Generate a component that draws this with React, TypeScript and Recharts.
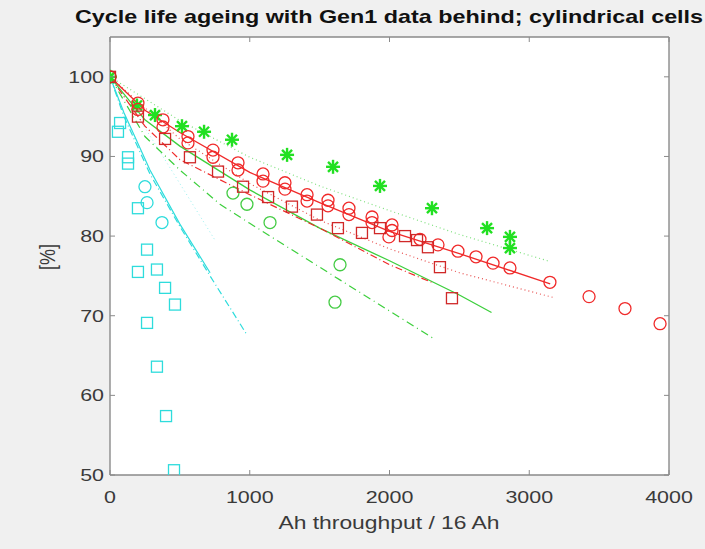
import React from 'react';
import { ComposedChart, Line, Scatter, XAxis, YAxis, CartesianGrid } from 'recharts';

const xTicks = [0, 1000, 2000, 3000, 4000];
const yTicks = [50, 60, 70, 80, 90, 100];

const redCircles = [[0,100],[200,96.7],[200,95.9],[379,94.6],[379,93.7],[558,92.5],[558,91.7],[737,90.8],[737,89.9],[916,89.2],[916,88.3],[1095,87.8],[1095,86.9],[1252,86.7],[1252,85.9],[1410,85.2],[1410,84.4],[1560,84.5],[1560,83.8],[1710,83.5],[1710,82.7],[1875,82.4],[1875,81.7],[2018,81.4],[2018,80.7],[1996,79.9],[2218,79.6],[2347,78.9],[2490,78.1],[2619,77.4],[2741,76.6],[2862,76.0],[3148,74.2],[3428,72.4],[3685,70.9],[3936,69.0]];
const redSquares = [[0,100],[200,95.0],[394,92.2],[572,89.9],[773,88.1],[952,86.2],[1131,84.9],[1302,83.7],[1481,82.7],[1631,81.0],[1803,80.4],[1932,81.0],[2111,80.0],[2197,79.5],[2275,78.6],[2361,76.1],[2447,72.2]];
const greenStars = [[0,100],[193,96.4],[322,95.2],[515,93.8],[673,93.1],[873,92.1],[1267,90.2],[1596,88.7],[1932,86.3],[2304,83.5],[2698,81.0],[2862,79.9],[2862,78.5]];
const greenCircles = [[0,100],[880,85.4],[980,84.0],[1145,81.7],[1646,76.4],[1610,71.7]];
const cyanSquares = [[72,94.2],[57,93.1],[129,89.9],[129,89.1],[200,83.5],[265,78.3],[200,75.5],[336,75.8],[394,73.5],[465,71.4],[265,69.1],[336,63.6],[401,57.4],[458,50.6]];
const cyanCircles = [[250,86.2],[265,84.2],[372,81.7]];

const redSolid = [[0,100],[250,95.8],[500,93],[1000,88],[1500,84.2],[2000,80.6],[2500,77.8],[3150,74.0]];
const redDotLow = [[0,100],[500,92.2],[1000,86.6],[1500,82.0],[2000,78.4],[2500,75.4],[3170,72.3]];
const greenDotUp = [[0,100],[500,94.5],[1000,89.9],[1500,86.3],[2000,83.2],[2500,80.2],[3150,76.8]];
const redDashDot = [[0,100],[250,93.8],[500,89.6],[1000,85.2],[1500,81.0],[2000,76.4],[2300,74.2]];
const greenSolid = [[0,100],[250,94.6],[500,91.3],[1000,85.8],[1500,81.0],[2000,76.9],[2500,72.6],[2730,70.4]];
const greenDashDot = [[0,100],[250,92.5],[500,88.3],[787,84.0],[1000,81.6],[1500,76.1],[2000,70.6],[2310,67.2]];
const cyanSolid = [[0,100],[100,95.5],[286,88.3],[500,81.5],[716,75.4]];
const cyanDashDot = [[0,100],[100,95],[286,87.8],[500,81.2],[716,75],[980,67.6]];
const cyanDot = [[0,100],[200,95],[450,88],[751,79.5]];

const pts = (a: number[][]) => a.map(([x, y]) => ({ x, y }));

const RED = '#f02a2a';
const RED_SQ = '#d02828';
const GREEN = '#22e022';
const GREEN_LINE = '#3ccf3c';
const CYAN = '#2edcdc';
const AXIS = '#8a8a8a';
const TXT = '#3a3a3a';
const FONT = "'Liberation Sans', Arial, Helvetica, sans-serif";
const SX = 1.3;

const circleShape = (color: string) => (p: any) => (
  <circle cx={p.cx} cy={p.cy} r={6} fill="none" stroke={color} strokeWidth={1.3} />
);
const squareShape = (color: string) => (p: any) => (
  <rect x={p.cx - 5.5} y={p.cy - 5.5} width={11} height={11} fill="none" stroke={color} strokeWidth={1.3} />
);
const starShape = (color: string) => (p: any) => {
  const r = 7, d = 5;
  return (
    <g stroke={color} strokeWidth={2.4}>
      <line x1={p.cx - r} y1={p.cy} x2={p.cx + r} y2={p.cy} />
      <line x1={p.cx} y1={p.cy - r} x2={p.cx} y2={p.cy + r} />
      <line x1={p.cx - d} y1={p.cy - d} x2={p.cx + d} y2={p.cy + d} />
      <line x1={p.cx - d} y1={p.cy + d} x2={p.cx + d} y2={p.cy - d} />
    </g>
  );
};

const BottomTick = (p: any) => (
  <g>
    <line x1={p.x} x2={p.x} y1={p.y} y2={p.y - 5} stroke={AXIS} />
    <text transform={`translate(${p.x},${p.y + 28}) scale(${SX},1)`} textAnchor="middle" fontSize={16.5} fill={TXT} fontFamily={FONT}>
      {p.payload.value}
    </text>
  </g>
);
const LeftTick = (p: any) => (
  <g>
    <line x1={p.x} x2={p.x + 5} y1={p.y} y2={p.y} stroke={AXIS} />
    <text transform={`translate(${p.x - 6},${p.y + 6}) scale(${SX},1)`} textAnchor="end" fontSize={16.5} fill={TXT} fontFamily={FONT}>
      {p.payload.value}
    </text>
  </g>
);
const TopTick = (p: any) => <line x1={p.x} x2={p.x} y1={p.y} y2={p.y + 5} stroke={AXIS} />;
const RightTick = (p: any) => <line x1={p.x} x2={p.x - 5} y1={p.y} y2={p.y} stroke={AXIS} />;

export default function App() {
  const lineCommon = { dataKey: 'y', dot: false, isAnimationActive: false, activeDot: false } as any;
  return (
    <div style={{ position: 'absolute', left: 0, top: 0, width: 705, height: 549, background: '#f0f0f0', overflow: 'hidden' }}>
      <div style={{ position: 'absolute', left: -11, top: 7, width: 800, textAlign: 'center', fontFamily: FONT, fontWeight: 'bold', fontSize: 18.4, lineHeight: '20px', color: '#111', transform: `scaleX(1.27)`, transformOrigin: 'center', whiteSpace: 'nowrap' }}>
        Cycle life ageing with Gen1 data behind; cylindrical cells
      </div>
      <div style={{ position: 'absolute', left: 189, top: 513, width: 400, textAlign: 'center', fontFamily: FONT, fontSize: 18, lineHeight: '20px', color: TXT, transform: `scaleX(1.27)`, transformOrigin: 'center', whiteSpace: 'nowrap' }}>
        Ah throughput / 16 Ah
      </div>
      <div style={{ position: 'absolute', left: 47 - 50, top: 257 - 10, width: 100, textAlign: 'center', fontFamily: FONT, fontSize: 18, lineHeight: '20px', color: TXT, transform: `scale(1.27,1) rotate(-90deg)`, transformOrigin: 'center', whiteSpace: 'nowrap' }}>
        [%]
      </div>
      <div style={{ position: 'absolute', left: 0, top: 0 }}>
        <ComposedChart width={705} height={549} margin={{ top: 27, right: 26, bottom: 34, left: 50 }}>
          <CartesianGrid fill="#ffffff" horizontal={false} vertical={false} stroke="none" />
          <XAxis xAxisId={0} type="number" dataKey="x" domain={[0, 4000]} ticks={xTicks} interval={0} allowDataOverflow
            orientation="bottom" height={40} tickSize={0} tickMargin={0} tickLine={false} tick={BottomTick}
            axisLine={{ stroke: AXIS, strokeWidth: 1.4 }} />
          <XAxis xAxisId="top" type="number" dataKey="x" domain={[0, 4000]} ticks={xTicks} interval={0} allowDataOverflow
            orientation="top" height={10} tickSize={0} tickMargin={0} tickLine={false} tick={TopTick}
            axisLine={{ stroke: AXIS, strokeWidth: 1.4 }} />
          <YAxis yAxisId={0} type="number" dataKey="y" domain={[50, 105]} ticks={yTicks} interval={0} allowDataOverflow
            orientation="left" width={60} tickSize={0} tickMargin={0} tickLine={false} tick={LeftTick}
            axisLine={{ stroke: AXIS, strokeWidth: 1.4 }} />
          <YAxis yAxisId="right" type="number" dataKey="y" domain={[50, 105]} ticks={yTicks} interval={0} allowDataOverflow
            orientation="right" width={10} tickSize={0} tickMargin={0} tickLine={false} tick={RightTick}
            axisLine={{ stroke: AXIS, strokeWidth: 1.4 }} />

          <Line {...lineCommon} data={pts(cyanDot)} stroke="#9af0f0" strokeWidth={1} strokeDasharray="1 3" />
          <Line {...lineCommon} data={pts(cyanDashDot)} stroke={CYAN} strokeWidth={1.2} strokeDasharray="7 3 1 3" />
          <Line {...lineCommon} data={pts(cyanSolid)} stroke={CYAN} strokeWidth={1.2} />
          <Line {...lineCommon} data={pts(greenDashDot)} stroke={GREEN_LINE} strokeWidth={1.2} strokeDasharray="8 4 1 4" />
          <Line {...lineCommon} data={pts(greenDotUp)} stroke="#7ee07e" strokeWidth={1.2} strokeDasharray="1 3" />
          <Line {...lineCommon} data={pts(redDotLow)} stroke="#e85050" strokeWidth={1.2} strokeDasharray="1 3" />
          <Line {...lineCommon} data={pts(greenSolid)} stroke={GREEN_LINE} strokeWidth={1.3} />
          <Line {...lineCommon} data={pts(redDashDot)} stroke={RED} strokeWidth={1.2} strokeDasharray="7 3 1 3" />
          <Line {...lineCommon} data={pts(redSolid)} stroke={RED} strokeWidth={1.3} />

          <Scatter data={pts(cyanSquares)} dataKey="y" isAnimationActive={false} shape={squareShape(CYAN)} />
          <Scatter data={pts(cyanCircles)} dataKey="y" isAnimationActive={false} shape={circleShape(CYAN)} />
          <Scatter data={pts(greenCircles)} dataKey="y" isAnimationActive={false} shape={circleShape('#45cc45')} />
          <Scatter data={pts(greenStars)} dataKey="y" isAnimationActive={false} shape={starShape(GREEN)} />
          <Scatter data={pts(redCircles)} dataKey="y" isAnimationActive={false} shape={circleShape(RED)} />
          <Scatter data={pts(redSquares)} dataKey="y" isAnimationActive={false} shape={squareShape(RED_SQ)} />
        </ComposedChart>
      </div>
    </div>
  );
}
